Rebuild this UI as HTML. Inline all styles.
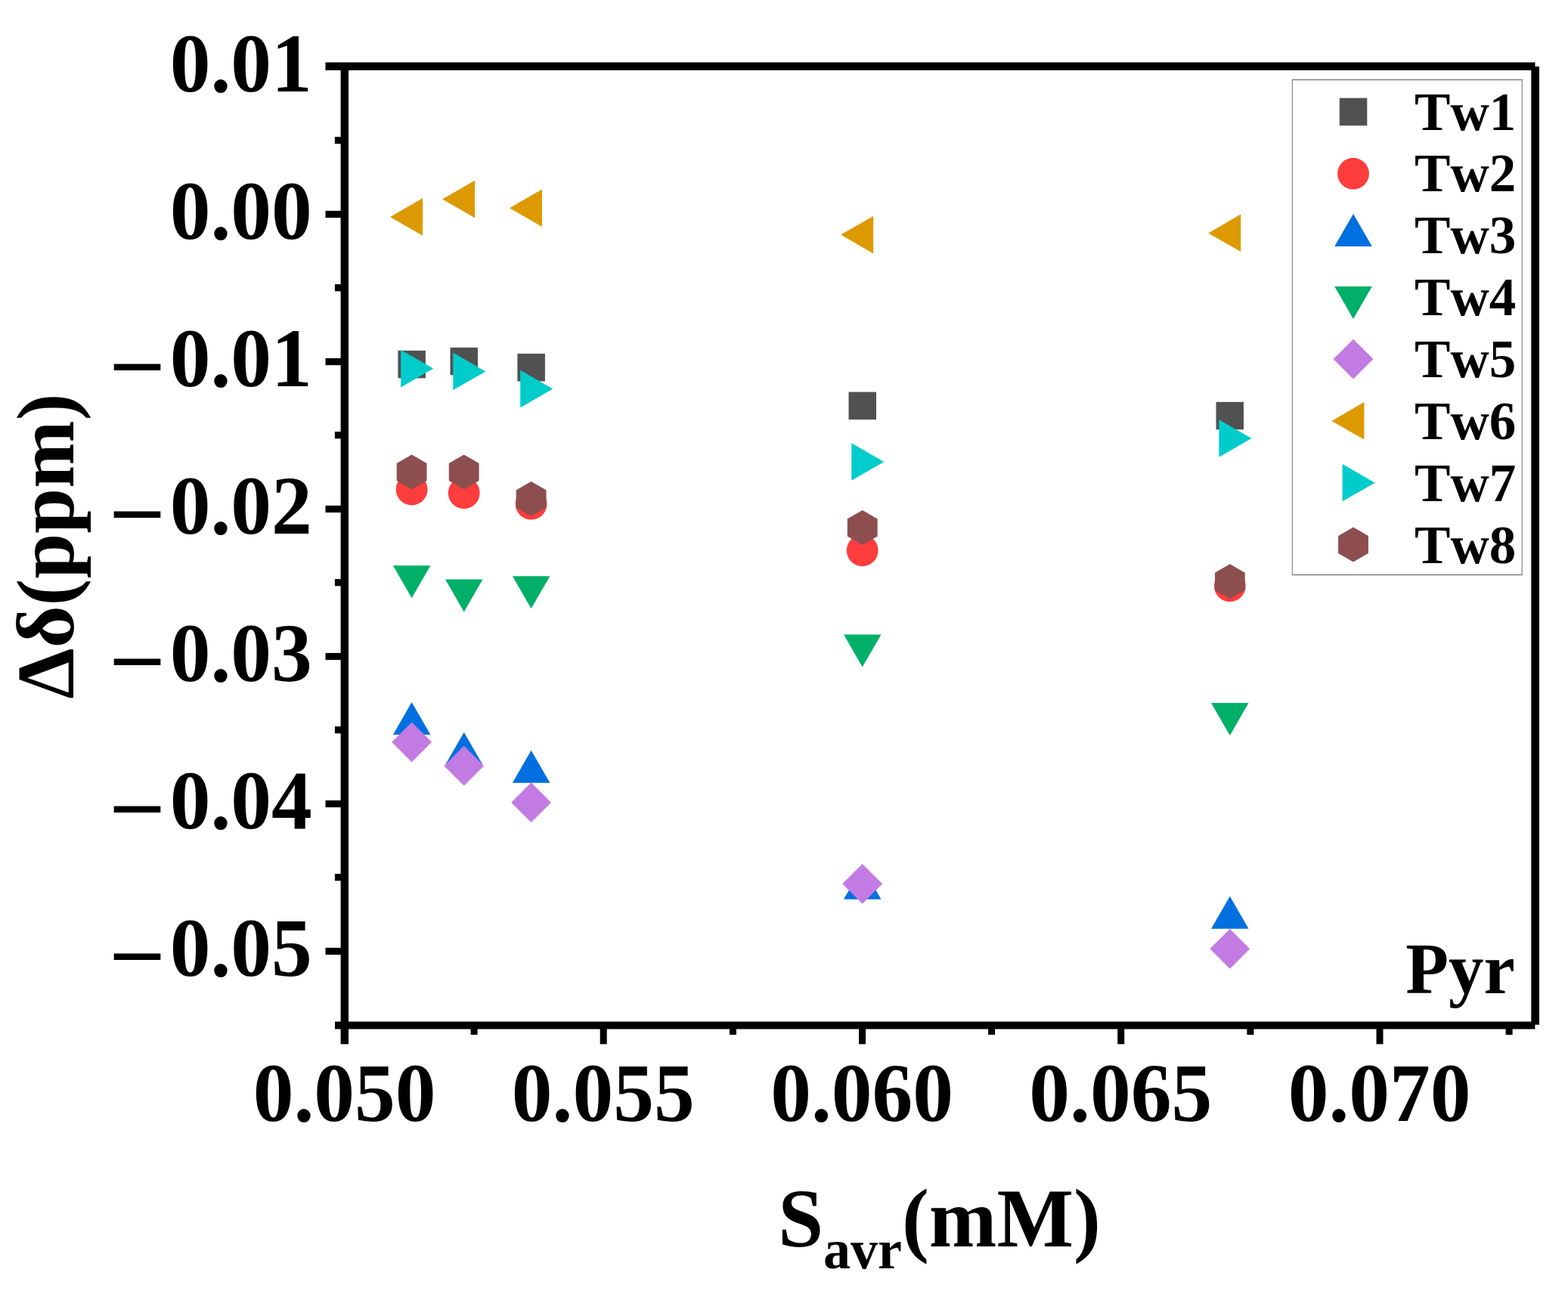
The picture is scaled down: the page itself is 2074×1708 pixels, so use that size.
<!DOCTYPE html>
<html lang="en"><head><meta charset="utf-8"><title>Pyr chemical shift vs S_avr</title>
<style>
html,body{margin:0;padding:0;background:#fff;}
body{width:2074px;height:1708px;overflow:hidden;}
svg{display:block;}
text{font-family:"Liberation Serif","DejaVu Serif",serif;font-weight:bold;fill:#000;font-kerning:none;}
.tick{font-size:107.5px;}
.leg{font-size:71px;}
.ttl{font-size:107.6px;}
</style></head><body>
<svg width="2074" height="1708" viewBox="0 0 2074 1708">
<rect x="0" y="0" width="2074" height="1708" fill="#ffffff"/>
<g id="data">
<rect x="526.4" y="463.8" width="36.5" height="36.5" fill="#515151"/>
<rect x="595.5" y="459.8" width="36.5" height="36.5" fill="#515151"/>
<rect x="684.4" y="467.9" width="36.5" height="36.5" fill="#515151"/>
<rect x="1122.5" y="518.6" width="36.5" height="36.5" fill="#515151"/>
<rect x="1608.5" y="531.8" width="36.5" height="36.5" fill="#515151"/>
<circle cx="544.6" cy="647.5" r="20.9" fill="#FF3D3D"/>
<circle cx="613.7" cy="652.2" r="20.9" fill="#FF3D3D"/>
<circle cx="702.6" cy="666.7" r="20.9" fill="#FF3D3D"/>
<circle cx="1140.7" cy="728.3" r="20.9" fill="#FF3D3D"/>
<circle cx="1626.8" cy="775.2" r="20.9" fill="#FF3D3D"/>
<polygon points="544.6,929.0 569.4,972.0 519.9,972.0" fill="#0070E0"/>
<polygon points="613.7,968.8 638.5,1011.8 589.0,1011.8" fill="#0070E0"/>
<polygon points="702.6,992.7 727.4,1035.7 677.9,1035.7" fill="#0070E0"/>
<polygon points="1140.7,1146.8 1165.5,1189.8 1116.0,1189.8" fill="#0070E0"/>
<polygon points="1626.8,1185.7 1651.5,1228.7 1602.0,1228.7" fill="#0070E0"/>
<polygon points="544.6,791.3 569.4,748.3 519.9,748.3" fill="#00B068"/>
<polygon points="613.7,809.4 638.5,766.4 589.0,766.4" fill="#00B068"/>
<polygon points="702.6,805.3 727.4,762.3 677.9,762.3" fill="#00B068"/>
<polygon points="1140.7,882.4 1165.5,839.4 1116.0,839.4" fill="#00B068"/>
<polygon points="1626.8,972.9 1651.5,929.9 1602.0,929.9" fill="#00B068"/>
<polygon points="544.6,955.4 571.0,981.8 544.6,1008.2 518.2,981.8" fill="#C27BE2"/>
<polygon points="613.7,986.8 640.1,1013.2 613.7,1039.6 587.3,1013.2" fill="#C27BE2"/>
<polygon points="702.6,1035.3 729.0,1061.7 702.6,1088.1 676.2,1061.7" fill="#C27BE2"/>
<polygon points="1140.7,1142.9 1167.1,1169.3 1140.7,1195.7 1114.3,1169.3" fill="#C27BE2"/>
<polygon points="1626.8,1228.9 1653.2,1255.3 1626.8,1281.7 1600.4,1255.3" fill="#C27BE2"/>
<polygon points="516.0,287.0 559.0,262.2 559.0,311.8" fill="#DC9A00"/>
<polygon points="585.1,263.5 628.1,238.8 628.1,288.2" fill="#DC9A00"/>
<polygon points="674.0,275.2 717.0,250.4 717.0,299.9" fill="#DC9A00"/>
<polygon points="1112.1,310.6 1155.1,285.9 1155.1,335.4" fill="#DC9A00"/>
<polygon points="1598.2,308.4 1641.2,283.6 1641.2,333.1" fill="#DC9A00"/>
<polygon points="573.2,487.6 530.2,462.9 530.2,512.4" fill="#00CCCC"/>
<polygon points="642.3,491.4 599.3,466.6 599.3,516.1" fill="#00CCCC"/>
<polygon points="731.2,514.5 688.2,489.8 688.2,539.2" fill="#00CCCC"/>
<polygon points="1169.3,611.0 1126.3,586.2 1126.3,635.8" fill="#00CCCC"/>
<polygon points="1655.4,580.0 1612.4,555.2 1612.4,604.8" fill="#00CCCC"/>
<polygon points="544.6,601.6 564.5,613.1 564.5,636.1 544.6,647.6 524.7,636.1 524.7,613.1" fill="#8C4E4E"/>
<polygon points="613.7,601.5 633.6,613.0 633.6,636.0 613.7,647.5 593.8,636.0 593.8,613.0" fill="#8C4E4E"/>
<polygon points="702.6,637.0 722.5,648.5 722.5,671.5 702.6,683.0 682.7,671.5 682.7,648.5" fill="#8C4E4E"/>
<polygon points="1140.7,675.1 1160.6,686.6 1160.6,709.6 1140.7,721.1 1120.8,709.6 1120.8,686.6" fill="#8C4E4E"/>
<polygon points="1626.8,746.2 1646.7,757.7 1646.7,780.7 1626.8,792.2 1606.9,780.7 1606.9,757.7" fill="#8C4E4E"/>
</g>
<g id="axes" fill="#000">
<rect x="450.6" y="83" width="10.4" height="1298.4"/>
<rect x="430.5" y="82.5" width="1600" height="10.5"/>
<rect x="2025.3" y="88" width="10.7" height="1267.7"/>
<rect x="443" y="1351.6" width="1587.4" height="9.9"/>
<rect x="430.5" y="278.9" width="22" height="9.2"/>
<rect x="430.5" y="473.9" width="22" height="9.2"/>
<rect x="430.5" y="668.9" width="22" height="9.2"/>
<rect x="430.5" y="863.9" width="22" height="9.2"/>
<rect x="430.5" y="1058.9" width="22" height="9.2"/>
<rect x="430.5" y="1253.9" width="22" height="9.2"/>
<rect x="442.9" y="181.1" width="10" height="9.2"/>
<rect x="442.9" y="376.1" width="10" height="9.2"/>
<rect x="442.9" y="571.1" width="10" height="9.2"/>
<rect x="442.9" y="766.1" width="10" height="9.2"/>
<rect x="442.9" y="961.1" width="10" height="9.2"/>
<rect x="442.9" y="1156.1" width="10" height="9.2"/>
<rect x="793.7" y="1356" width="9" height="25.4"/>
<rect x="1136.0" y="1356" width="9" height="25.4"/>
<rect x="1478.2" y="1356" width="9" height="25.4"/>
<rect x="1820.5" y="1356" width="9" height="25.4"/>
<rect x="622.6" y="1356" width="9" height="13"/>
<rect x="964.9" y="1356" width="9" height="13"/>
<rect x="1307.1" y="1356" width="9" height="13"/>
<rect x="1649.4" y="1356" width="9" height="13"/>
<rect x="1991.6" y="1356" width="9" height="13"/>
</g>
<g class="tick" text-anchor="end">
<text transform="translate(412.8,120.7) scale(1,1.018)">0.01</text>
<text transform="translate(412.8,315.7) scale(1,1.018)">0.00</text>
<text transform="translate(412.8,510.7) scale(1,1.018)"><tspan font-size="120" dy="3.2">–</tspan><tspan dx="13.3" dy="-3.2">0.01</tspan></text>
<text transform="translate(412.8,705.7) scale(1,1.018)"><tspan font-size="120" dy="3.2">–</tspan><tspan dx="13.3" dy="-3.2">0.02</tspan></text>
<text transform="translate(412.8,900.7) scale(1,1.018)"><tspan font-size="120" dy="3.2">–</tspan><tspan dx="13.3" dy="-3.2">0.03</tspan></text>
<text transform="translate(412.8,1095.7) scale(1,1.018)"><tspan font-size="120" dy="3.2">–</tspan><tspan dx="13.3" dy="-3.2">0.04</tspan></text>
<text transform="translate(412.8,1290.7) scale(1,1.018)"><tspan font-size="120" dy="3.2">–</tspan><tspan dx="13.3" dy="-3.2">0.05</tspan></text>
</g>
<g class="tick" text-anchor="middle">
<text transform="translate(455.6,1483.2) scale(1,1.018)">0.050</text>
<text transform="translate(797.8,1483.2) scale(1,1.018)">0.055</text>
<text transform="translate(1140.1,1483.2) scale(1,1.018)">0.060</text>
<text transform="translate(1482.3,1483.2) scale(1,1.018)">0.065</text>
<text transform="translate(1824.6,1483.2) scale(1,1.018)">0.070</text>
</g>
<text class="ttl" text-anchor="middle" transform="translate(97,722.6) rotate(-90)">Δδ(ppm)</text>
<text class="ttl" transform="translate(1029.2,1649) scale(1,1.028)">S<tspan font-size="72" dy="28.5">avr</tspan><tspan dy="-28.5">(mM)</tspan></text>
<g id="legend">
<path d="M1708.7 105.4H2014M1708.7 760.6H2014" fill="none" stroke="#808080" stroke-width="1.5"/>
<path d="M1709.4 105.4V760.6M2013.3 105.4V760.6" fill="none" stroke="#999999" stroke-width="1.5"/>
<rect x="1771.8" y="129.7" width="36.5" height="36.5" fill="#515151"/>
<text class="leg" transform="translate(1871.1,171.6) scale(1,1.02)">Tw1</text>
<circle cx="1790.0" cy="229.7" r="20.9" fill="#FF3D3D"/>
<text class="leg" transform="translate(1871.1,253.4) scale(1,1.02)">Tw2</text>
<polygon points="1790.0,282.9 1814.8,325.9 1765.2,325.9" fill="#0070E0"/>
<text class="leg" transform="translate(1871.1,335.3) scale(1,1.02)">Tw3</text>
<polygon points="1790.0,421.9 1814.8,378.9 1765.2,378.9" fill="#00B068"/>
<text class="leg" transform="translate(1871.1,417.1) scale(1,1.02)">Tw4</text>
<polygon points="1790.0,448.7 1816.4,475.1 1790.0,501.5 1763.6,475.1" fill="#C27BE2"/>
<text class="leg" transform="translate(1871.1,499.0) scale(1,1.02)">Tw5</text>
<polygon points="1761.4,556.9 1804.4,532.1 1804.4,581.6" fill="#DC9A00"/>
<text class="leg" transform="translate(1871.1,580.9) scale(1,1.02)">Tw6</text>
<polygon points="1818.6,638.7 1775.6,613.9 1775.6,663.4" fill="#00CCCC"/>
<text class="leg" transform="translate(1871.1,662.7) scale(1,1.02)">Tw7</text>
<polygon points="1790.0,697.5 1809.9,709.0 1809.9,732.0 1790.0,743.5 1770.1,732.0 1770.1,709.0" fill="#8C4E4E"/>
<text class="leg" transform="translate(1871.1,744.5) scale(1,1.02)">Tw8</text>
</g>
<text transform="translate(1859.3,1313.7) scale(1,1.022)" font-size="93">Pyr</text>
</svg></body></html>
